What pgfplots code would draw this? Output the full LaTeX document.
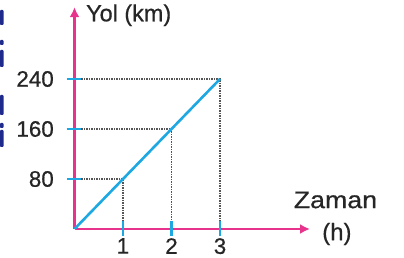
\documentclass[border=0pt]{standalone}
\usepackage{pgfplots}
\pgfplotsset{compat=1.18}
\usepackage{fontspec}
\setmainfont{Liberation Sans}[FakeBold=0.6]
\usetikzlibrary{arrows.meta}
\definecolor{pinkax}{HTML}{E8338C}
\definecolor{bluel}{HTML}{1EA8E2}
\definecolor{dotc}{HTML}{555555}
\definecolor{txt}{HTML}{262626}
\definecolor{navy}{HTML}{1E2A8C}
\begin{document}
\begin{tikzpicture}
\path[use as bounding box] (0,0) rectangle (404bp,258bp);
\begin{axis}[
  at={(74.5bp,29bp)}, anchor=origin,
  x=48.5bp, y=0.625bp,
  xmin=0, xmax=4.856, ymin=0, ymax=355,
  axis lines=middle,
  axis line style={pinkax, line width=2.6bp, -{Latex[length=10bp,width=10bp]}},
  xtick={1,2,3}, ytick={80,160,240},
  major tick length=0pt,
  xticklabels={}, yticklabels={},
  clip=false,
]
\addplot[dotc, line width=1.5bp, dash pattern=on 1.3bp off 1.2bp] coordinates {(0.14,80) (1,80) (1,0.12)};
\addplot[dotc, line width=1.5bp, dash pattern=on 1.3bp off 1.2bp] coordinates {(0.14,160) (2,160) (2,0.12)};
\addplot[dotc, line width=1.5bp, dash pattern=on 1.3bp off 1.2bp] coordinates {(0.14,240) (3,240) (3,12)};
\addplot[bluel, line width=2.6bp] coordinates {(0,0) (3,240)};
\node[anchor=west, inner sep=0pt, text=txt, font=\fontsize{23.5}{26}\selectfont] at (axis cs:0.237,342) {Yol (km)};
\node[inner sep=0pt, text=txt, font=\fontsize{24}{26}\selectfont, xscale=1.12] at (axis cs:5.38,46.4) {Zaman};
\node[inner sep=0pt, text=txt, font=\fontsize{24}{26}\selectfont] at (axis cs:5.41,-8) {(h)};
\coordinate (tx1) at (axis cs:1,0);
\coordinate (tx2) at (axis cs:2,0);
\coordinate (tx3) at (axis cs:3,0);
\coordinate (ty1) at (axis cs:0,80);
\coordinate (ty2) at (axis cs:0,160);
\coordinate (ty3) at (axis cs:0,240);
\end{axis}
\foreach \t in {tx1,tx2,tx3} \draw[bluel, line width=2.6bp] (\t) ++(0,8bp) -- ++(0,-15bp);
\foreach \t in {ty1,ty2,ty3} \draw[bluel, line width=2.6bp] (\t) ++(-8bp,0) -- ++(14bp,0);
\begin{scope}[every node/.style={inner sep=0pt, text=txt, font=\fontsize{22.5}{26}\selectfont}]
\node[anchor=north] at ([yshift=-9bp]tx1) {1};
\node[anchor=north] at ([yshift=-9bp]tx2) {2};
\node[anchor=north] at ([yshift=-9bp]tx3) {3};
\node[anchor=east] at ([xshift=-20.5bp]ty1) {80};
\node[anchor=east] at ([xshift=-20.5bp]ty2) {160};
\node[anchor=east] at ([xshift=-20.5bp]ty3) {240};
\end{scope}
\fill[navy, rounded corners=0.8bp] (0,233bp) rectangle (3.5bp,248bp);
\fill[navy, rounded corners=0.8bp] (0,191bp) rectangle (3.5bp,208bp);
\fill[navy, rounded corners=0.8bp] (0,213bp) rectangle (3.5bp,218bp);
\fill[navy, rounded corners=0.8bp] (0,143bp) rectangle (3.5bp,163bp);
\fill[navy, rounded corners=0.8bp] (0,111bp) rectangle (3.5bp,128bp);
\fill[navy, rounded corners=0.8bp] (0,130bp) rectangle (3.5bp,135bp);
\end{tikzpicture}
\end{document}
